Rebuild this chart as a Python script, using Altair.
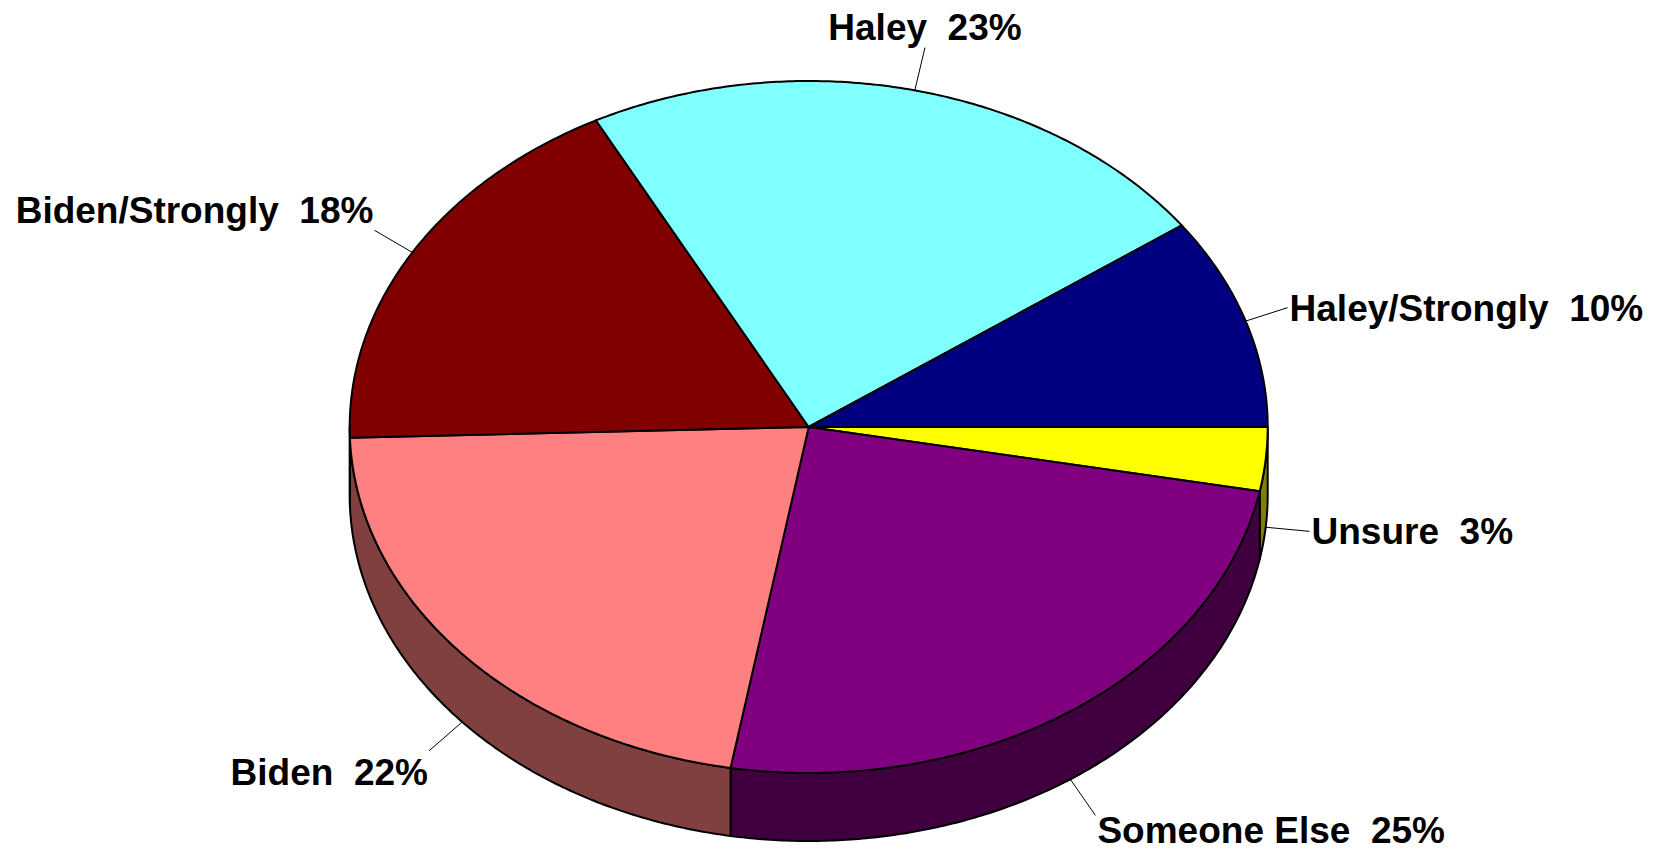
import numpy as np
import pandas as pd
import altair as alt

# ---- data ----
labels = ["Unsure", "Someone Else", "Biden", "Biden/Strongly", "Haley", "Haley/Strongly"]
values = [3, 25, 22, 18, 23, 10]
top_colors = ["#FFFF00", "#800080", "#FF8080", "#800000", "#80FFFF", "#000080"]
side_colors = ["#808000", "#400040", "#804040", "#400000", "#408080", "#000040"]

# ---- layout (pixels of plot area) ----
W, H = 1651, 844
CX, CY, RX, RY, DEPTH = 800.7, 419.0, 459.0, 346.0, 68.0
LEAD = 44.0
FS = 37

total = float(sum(values))
tops, sides, leads = [], [], []
start = 0.0
for i, (lab, v) in enumerate(zip(labels, values)):
    a0 = start / total * 2 * np.pi
    a1 = (start + v) / total * 2 * np.pi
    start += v
    n = max(4, int(np.degrees(a1 - a0) * 2)) + 1
    ts = np.linspace(a0, a1, n)
    pts = [(CX, CY)] + [(CX + RX * np.cos(t), CY + RY * np.sin(t)) for t in ts] + [(CX, CY)]
    for k, (x, y) in enumerate(pts):
        tops.append(dict(shape=f"t{i}", k=k, x=x, y=y, fill=top_colors[i]))
    s0, s1 = max(a0, 0.0), min(a1, np.pi)
    if s1 > s0:
        m = max(4, int(np.degrees(s1 - s0) * 2)) + 1
        ts2 = np.linspace(s0, s1, m)
        up = [(CX + RX * np.cos(t), CY + RY * np.sin(t)) for t in ts2]
        dn = [(x, y + DEPTH) for (x, y) in up][::-1]
        poly = up + dn + [up[0]]
        for k, (x, y) in enumerate(poly):
            sides.append(dict(shape=f"s{i}", k=k, x=x, y=y, fill=side_colors[i]))
    tm = (a0 + a1) / 2
    c, s = np.cos(tm), np.sin(tm)
    sx = CX + RX * c
    sy = CY + RY * s + (DEPTH if s > 0 else 0.0)
    ex, ey = sx + LEAD * c, sy + LEAD * s
    if abs(c) < 0.3:
        align, tx, ty = "center", ex, ey - 8
    else:
        align = "left" if c > 0 else "right"
        tx = ex + 2 if c > 0 else ex - 1
        ty = ey + (34 if s > 0.4 else (-7 if s < -0.4 else 13))
    ty = min(ty, H - 0.23 * FS)
    leads.append(dict(label=f"{lab}\u00a0 {v}%", sx=sx, sy=sy, ex=ex, ey=ey,
                      tx=tx, ty=ty, align=align))

tops_df = pd.DataFrame(tops)
sides_df = pd.DataFrame(sides)
lead_df = pd.DataFrame(leads)

xs = alt.Scale(domain=[0, W], nice=False, zero=False)
ys = alt.Scale(domain=[0, H], nice=False, zero=False, reverse=True)


def poly_layer(df):
    return alt.Chart(df).mark_line(
        filled=True, stroke="black", strokeWidth=2, strokeJoin="round", opacity=1
    ).encode(
        x=alt.X("x:Q", scale=xs, axis=None),
        y=alt.Y("y:Q", scale=ys, axis=None),
        order="k:Q",
        detail="shape:N",
        fill=alt.Fill("fill:N", scale=None),
    )


side_layer = poly_layer(sides_df)
top_layer = poly_layer(tops_df)

lead_layer = alt.Chart(lead_df).mark_rule(color="black", strokeWidth=1).encode(
    x=alt.X("sx:Q", scale=xs, axis=None),
    y=alt.Y("sy:Q", scale=ys, axis=None),
    x2="ex:Q",
    y2="ey:Q",
)

text_layers = []
for al in ["left", "right", "center"]:
    text_layers.append(
        alt.Chart(lead_df).transform_filter(alt.datum.align == al).mark_text(
            align=al, baseline="alphabetic", font="Liberation Sans",
            fontWeight="bold", fontSize=FS, color="black"
        ).encode(
            x=alt.X("tx:Q", scale=xs, axis=None),
            y=alt.Y("ty:Q", scale=ys, axis=None),
            text="label:N",
        )
    )

chart = alt.layer(side_layer, top_layer, lead_layer, *text_layers).properties(
    width=W, height=H, padding=0, background="white",
    autosize=alt.AutoSizeParams(type="none"),
).configure_view(stroke=None)

chart.save("out.html", embed_options={"renderer": "svg", "actions": False})
